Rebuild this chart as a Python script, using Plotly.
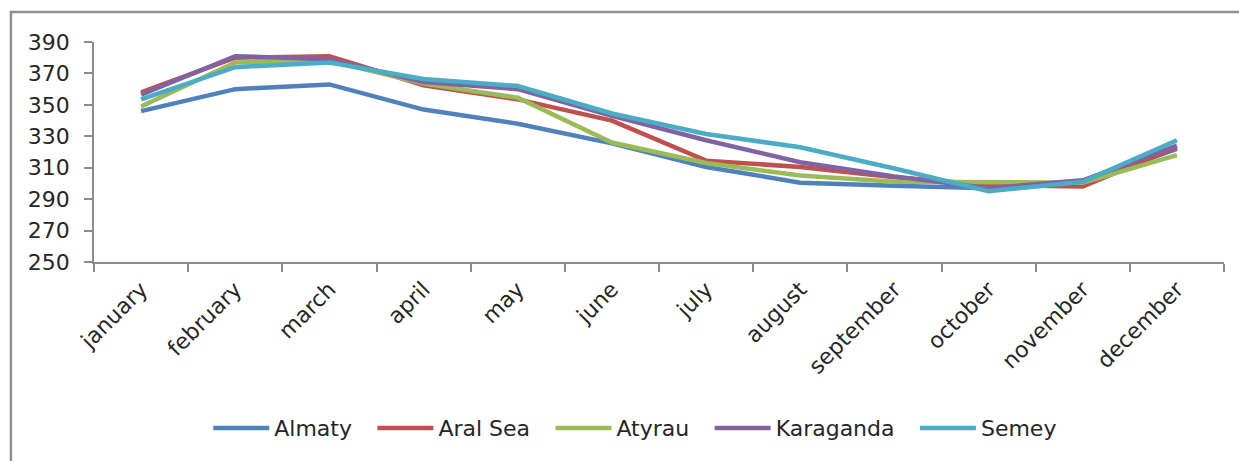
import plotly.graph_objects as go

months = ["january", "february", "march", "april", "may", "june",
          "july", "august", "september", "october", "november", "december"]

almaty = [346, 360, 363, 347, 338, 325.5, 310.5, 300.5, 298.5, 297, 300.5, 322]
aral_sea = [358, 380, 381, 362.5, 353.5, 340, 314.5, 310.5, 304, 299, 298, 323]
atyrau = [349, 377, 378, 363.5, 354.5, 326, 313, 305, 301, 301, 300.5, 318]
karaganda = [356.5, 381, 379, 364.5, 360, 343, 327.5, 313.5, 304.5, 297, 302, 324]
semey = [353.5, 374, 377, 366.5, 362, 344.5, 331.5, 323, 309.5, 295, 301, 327.5]

series = [
    ("Almaty", almaty, "#4F81BD"),
    ("Aral Sea", aral_sea, "#C0504D"),
    ("Atyrau", atyrau, "#9BBB59"),
    ("Karaganda", karaganda, "#8064A2"),
    ("Semey", semey, "#4BACC6"),
]

y_ticks = [250, 270, 290, 310, 330, 350, 370, 390]

# extra spacing between legend entries
pad = "\u2002\u2009"

fig = go.Figure()
for i, (name, vals, color) in enumerate(series):
    label = name + (pad if i < len(series) - 1 else "")
    fig.add_trace(go.Scatter(
        x=months, y=vals, name=label, mode="lines",
        line=dict(color=color, width=4.5),
    ))

font_family = "DejaVu Sans, Liberation Sans, sans-serif"
text_color = "#262626"
axis_color = "#8C8C8C"
fsize = 22

fig.update_layout(
    width=1239, height=461,
    margin=dict(l=94, r=15, t=42, b=199),
    paper_bgcolor="white", plot_bgcolor="white",
    font=dict(family=font_family, size=fsize, color=text_color),
    showlegend=True,
    legend=dict(
        orientation="h", x=0.479, xanchor="center", y=-0.755, yanchor="middle",
        font=dict(size=fsize, color=text_color), itemwidth=56,
        traceorder="normal", bgcolor="rgba(0,0,0,0)",
    ),
    xaxis=dict(
        type="category", range=[-0.5, 11.5], showgrid=False, showline=True,
        linecolor=axis_color, linewidth=1.5, ticks="outside",
        tickson="boundaries", ticklen=8, tickcolor=axis_color, tickwidth=1.5,
        tickangle=-45, tickfont=dict(size=fsize, color=text_color),
        ticklabelstandoff=4,
    ),
    yaxis=dict(
        range=[250, 390], tickvals=y_ticks, showgrid=False, showline=True,
        linecolor=axis_color, linewidth=1.5, ticks="outside", ticklen=8,
        tickcolor=axis_color, tickwidth=1.5, zeroline=False,
        tickfont=dict(size=fsize, color=text_color), ticklabelstandoff=10,
    ),
    shapes=[dict(
        type="rect", xref="paper", yref="paper",
        x0=-0.0735, x1=1.03, y0=-1.0, y1=1.136,
        line=dict(color="#8F8F8F", width=2.5), fillcolor="rgba(0,0,0,0)",
        layer="below",
    )],
)

fig.write_html("out.html")
